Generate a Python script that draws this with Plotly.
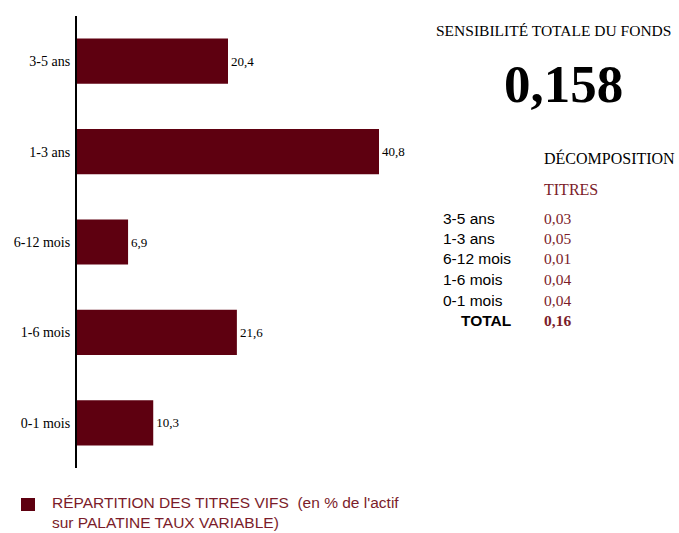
import plotly.graph_objects as go

W, H = 679, 533

categories = ["3-5 ans", "1-3 ans", "6-12 mois", "1-6 mois", "0-1 mois"]
repartition = [20.4, 40.8, 6.9, 21.6, 10.3]

decomp_labels = ["3-5 ans", "1-3 ans", "6-12 mois", "1-6 mois", "0-1 mois"]
decomp_values = ["0,03", "0,05", "0,01", "0,04", "0,04"]
total_label = "TOTAL"
total_value = "0,16"
sensibilite = "0,158"
legend_lines = ["RÉPARTITION DES TITRES VIFS  (en % de l'actif", "sur PALATINE TAUX VARIABLE)"]

BAR = "#5e0010"
MAROON = "#7b1c2a"
SERIF = "Liberation Serif"
SANS = "Liberation Sans"


def px(x):
    return x / W


def py(y):
    return 1 - y / H


fig = go.Figure()
fig.add_trace(go.Bar(
    y=categories,
    x=repartition,
    orientation="h",
    marker=dict(color=BAR, line=dict(width=0)),
    width=0.5,
    text=[f"{v:.1f}".replace(".", ",") for v in repartition],
    textposition="outside",
    textfont=dict(family=SERIF, size=13, color="#000000"),
    cliponaxis=False,
    showlegend=False,
    hoverinfo="skip",
))

annotations = []


def ann(x, y, text, size, color="#000000", family=SERIF, xanchor="left", yanchor="middle"):
    annotations.append(dict(x=px(x), y=py(y), xref="paper", yref="paper",
                            text=text, showarrow=False, xanchor=xanchor,
                            yanchor=yanchor, align="left",
                            font=dict(family=family, size=size, color=color)))


ann(434, 30, "SENSIBILITÉ TOTALE DU FONDS", 15.5)
ann(563, 84, f"<b>{sensibilite}</b>", 53, xanchor="center")
ann(542, 158, "DÉCOMPOSITION", 16)
ann(542, 189, "TITRES", 16, color=MAROON)
row_y = [218, 238.5, 259, 279.5, 300]
for lab, val, yy in zip(decomp_labels, decomp_values, row_y):
    ann(441, yy, lab, 15.5, family=SANS)
    ann(542, yy, val, 15.5, color=MAROON)
ann(459, 320.5, f"<b>{total_label}</b>", 15.5, family=SANS)
ann(542, 320.5, f"<b>{total_value}</b>", 15.5, color=MAROON)

# legend marker and text
ann(50, 532.5, "<br>".join(legend_lines), 15.5, color=MAROON, family=SANS,
    yanchor="bottom")

shapes = [dict(type="rect", xref="paper", yref="paper",
               x0=px(21), x1=px(35), y0=py(511), y1=py(498),
               fillcolor=BAR, line=dict(width=0))]

scale = 302 / 40.8  # px per unit
x_right_px = 420
fig.update_layout(
    width=W, height=H,
    margin=dict(l=0, r=0, t=0, b=0),
    paper_bgcolor="white", plot_bgcolor="white",
    bargap=0.5,
    xaxis=dict(domain=[px(77), px(x_right_px)], range=[0, (x_right_px - 77) / scale],
               visible=False, fixedrange=True),
    yaxis=dict(domain=[py(468), py(16)], categoryorder="array",
               categoryarray=categories[::-1], showline=True, linecolor="#000000",
               linewidth=2, ticks="", showgrid=False, zeroline=False,
               tickfont=dict(family=SERIF, size=14, color="#000000"),
               ticklabelstandoff=2, fixedrange=True),
    annotations=annotations,
    shapes=shapes,
    showlegend=False,
)

fig.write_html("out.html", config={"displayModeBar": False},
               post_script="document.body.style.margin='0';document.body.style.overflow='hidden';")
